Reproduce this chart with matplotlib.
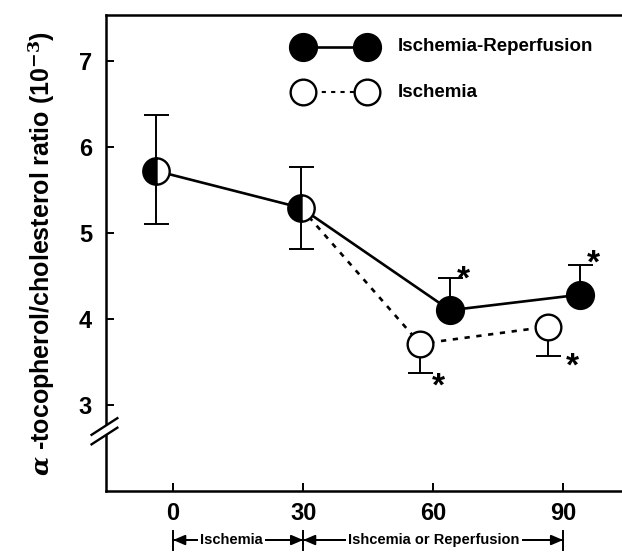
import numpy as np
import matplotlib
matplotlib.use('Agg')
import matplotlib.pyplot as plt
from matplotlib.patches import Polygon

plt.rcParams['font.family'] = ['Liberation Sans', 'DejaVu Sans']
plt.rcParams['font.weight'] = 'bold'
plt.rcParams['mathtext.fontset'] = 'dejavuserif'

# data (x offsets keep the points apart as in the original)
x_rep = [-4, 29.5, 63.9, 93.8]
y_rep = [5.72, 5.29, 4.10, 4.28]
rep_err_lo = [0.62, 0.48, 0.0, 0.0]
rep_err_hi = [0.65, 0.47, 0.37, 0.35]

x_isc = [-4, 29.5, 57.0, 86.6]
y_isc = [5.72, 5.29, 3.71, 3.91]
isc_err_lo = [0.0, 0.0, 0.34, 0.34]
isc_err_hi = [0.0, 0.0, 0.0, 0.0]

x_ticks = [0, 30, 60, 90]
y_ticks = [3, 4, 5, 6, 7]
label_rep = 'Ischemia-Reperfusion'
label_isc = 'Ischemia'

fig = plt.figure(figsize=(6.22, 5.57), dpi=100)
ax = fig.add_axes([106 / 622, 66 / 557, 516 / 622, 476 / 557])
ax.set_xlim(-15.5, 103.6)
ax.set_ylim(2.0, 7.53)

for s in ['left', 'bottom', 'top']:
    ax.spines[s].set_linewidth(1.8)
ax.spines['right'].set_visible(False)

ax.set_xticks(x_ticks)
ax.set_yticks(y_ticks)
ax.tick_params(direction='in', length=6, width=1.4, labelsize=17)
ax.tick_params(axis='y', pad=10)
ax.tick_params(axis='x', pad=8)
for lab in ax.get_xticklabels() + ax.get_yticklabels():
    lab.set_fontweight('bold')

ax.set_ylabel(r'$\alpha$ -tocopherol/cholesterol ratio (10$^{\mathbf{-3}}$)',
              fontsize=18, fontweight='bold', labelpad=16)

# error bars
ax.errorbar(x_rep, y_rep, yerr=[rep_err_lo, rep_err_hi], fmt='none',
            ecolor='black', elinewidth=1.4, capsize=9, capthick=1.4, zorder=2)
ax.errorbar(x_isc, y_isc, yerr=[isc_err_lo, isc_err_hi], fmt='none',
            ecolor='black', elinewidth=1.4, capsize=9, capthick=1.4, zorder=2)

# lines
ax.plot(x_rep, y_rep, '-', color='black', lw=1.9, zorder=3)
ax.plot(x_isc[1:], y_isc[1:], color='black', lw=1.9, linestyle=(0, (2, 2.5)), zorder=3)

# markers
ax.plot(x_rep[:2], y_rep[:2], 'o', ms=19, mfc='black', mec='black', mew=1.7,
        fillstyle='left', markerfacecoloralt='white', zorder=4)
ax.plot(x_rep[2:], y_rep[2:], 'o', ms=20, mfc='black', mec='black', zorder=4)
ax.plot(x_isc[2:], y_isc[2:], 'o', ms=18.5, mfc='white', mec='black', mew=1.7, zorder=4)

# significance asterisks
for x, y, dx, dy in [(x_rep[2], y_rep[2], 10, 22), (x_rep[3], y_rep[3], 10, 22),
                     (x_isc[2], y_isc[2], 13, -31), (x_isc[3], y_isc[3], 17, -29)]:
    ax.annotate('*', (x, y), xytext=(dx, dy), textcoords='offset points',
                fontsize=24, fontweight='bold', ha='center', va='center', zorder=5)

# legend drawn by hand
tr = ax.transAxes
ax.plot([0.3818, 0.5058], [0.9328, 0.9328], '-o', color='black', lw=1.9, ms=20,
        mfc='black', transform=tr, clip_on=False)
ax.plot([0.3818, 0.5058], [0.8382, 0.8382], color='black', lw=1.5,
        linestyle=(0, (2, 2.5)), transform=tr)
ax.plot([0.3818, 0.5058], [0.8382, 0.8382], 'o', ms=18.5, mfc='white', mec='black',
        mew=1.7, transform=tr)
ax.text(0.5659, 0.9328, label_rep, transform=tr, fontsize=13.5, fontweight='bold',
        va='center', ha='left')
ax.text(0.5659, 0.8382, label_isc, transform=tr, fontsize=13.5, fontweight='bold',
        va='center', ha='left')

# axis break on the y axis
yb = 0.128
brk = Polygon([[-0.03, yb - 0.03], [0.03, yb + 0.01], [0.03, yb + 0.03], [-0.03, yb - 0.01]],
              closed=True, transform=tr, facecolor='white', edgecolor='none',
              clip_on=False, zorder=6)
ax.add_patch(brk)
for off in [-0.01, 0.01]:
    ax.plot([-0.028, 0.022], [yb - 0.02 + off, yb + 0.015 + off], color='black',
            lw=1.7, transform=tr, clip_on=False, zorder=7)

# period bars under the x axis
ya = -0.103
xform = ax.get_xaxis_transform()
for a, b in [(0, 30), (30, 90)]:
    for p, q in [(a, b), (b, a)]:
        ax.annotate('', xy=(p, ya), xytext=(q, ya), xycoords=xform, textcoords=xform,
                    arrowprops=dict(arrowstyle='-|>,head_length=0.7,head_width=0.3',
                                    color='black', lw=1.4, shrinkA=0, shrinkB=0),
                    annotation_clip=False)
for xb in [0, 30, 90]:
    ax.plot([xb, xb], [ya - 0.02, ya + 0.02], color='black', lw=1.4,
            transform=xform, clip_on=False)
ax.text(13.4, ya, 'Ischemia', transform=xform, fontsize=10.5, fontweight='bold',
        ha='center', va='center', bbox=dict(facecolor='white', edgecolor='none', pad=1.5))
ax.text(60.2, ya, 'Ishcemia or Reperfusion', transform=xform, fontsize=10.5,
        fontweight='bold', ha='center', va='center',
        bbox=dict(facecolor='white', edgecolor='none', pad=1.5))

fig.savefig('out.png', dpi=100)
